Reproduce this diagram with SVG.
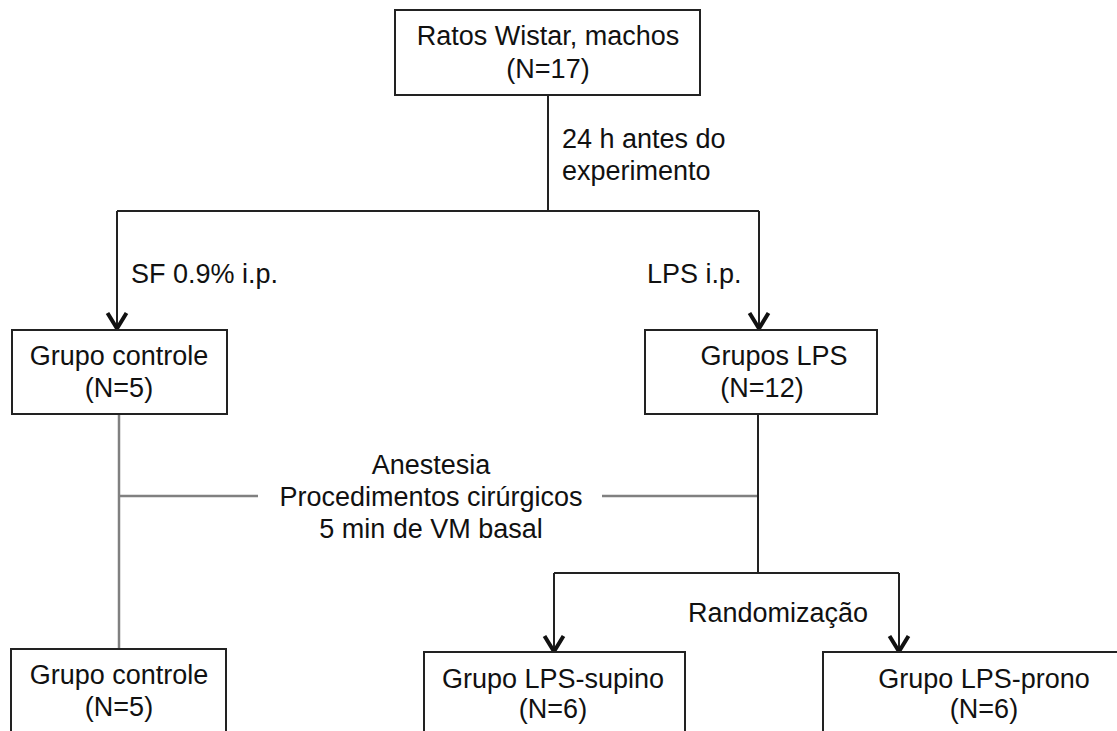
<svg xmlns="http://www.w3.org/2000/svg" width="1117" height="731" viewBox="0 0 1117 731">
<style>
text{font-family:"Liberation Sans",Arial,sans-serif;font-size:27px;fill:#111}
.c{text-anchor:middle}
.box{fill:#fff;stroke:#222;stroke-width:2}
.ln{fill:none;stroke:#222;stroke-width:2}
.gr{fill:none;stroke:#808080;stroke-width:2.5}
</style>
<defs>
<marker id="ah" markerWidth="22" markerHeight="24" refX="19" refY="12" orient="auto" markerUnits="userSpaceOnUse" viewBox="0 0 22 24">
<path d="M3,2.5 L18.5,12 L3,21.5" fill="none" stroke="#111" stroke-width="4"/>
</marker>
</defs>
<rect width="1117" height="731" fill="#fff"/>
<g id="connectors">
<path class="ln" d="M548,95 V211"/>
<path class="ln" d="M117,211 H759"/>
<path class="ln" d="M117,211 V329" marker-end="url(#ah)"/>
<path class="ln" d="M759,211 V329" marker-end="url(#ah)"/>
<path class="gr" d="M119,414 V649"/>
<path class="gr" d="M119,496 H258"/>
<path class="gr" d="M602,496 H758"/>
<path class="ln" d="M758,414 V573"/>
<path class="ln" d="M554,573 H899"/>
<path class="ln" d="M554,573 V652" marker-end="url(#ah)"/>
<path class="ln" d="M899,573 V652" marker-end="url(#ah)"/>
<text x="562" y="148">24 h antes do</text>
<text x="562" y="180">experimento</text>
<text x="131" y="283">SF 0.9% i.p.</text>
<text x="647" y="283">LPS i.p.</text>
<text class="c" x="431" y="474">Anestesia</text>
<text class="c" x="431" y="506">Procedimentos cirúrgicos</text>
<text class="c" x="431" y="538">5 min de VM basal</text>
<text class="c" x="778" y="622">Randomização</text>
</g>
<g id="n-ratos">
<rect class="box" x="395" y="10" width="305" height="85"/>
<text class="c" x="548" y="45">Ratos Wistar, machos</text>
<text class="c" x="548" y="78">(N=17)</text>
</g>
<g id="n-controle1">
<rect class="box" x="12" y="330" width="215" height="84"/>
<text class="c" x="119" y="365">Grupo controle</text>
<text class="c" x="119" y="397">(N=5)</text>
</g>
<g id="n-lps">
<rect class="box" x="645" y="330" width="232" height="84"/>
<text class="c" x="774" y="365">Grupos LPS</text>
<text class="c" x="762" y="397">(N=12)</text>
</g>
<g id="n-controle2">
<rect class="box" x="11" y="649" width="215" height="100"/>
<text class="c" x="119" y="684">Grupo controle</text>
<text class="c" x="119" y="716">(N=5)</text>
</g>
<g id="n-supino">
<rect class="box" x="424" y="652" width="261" height="100"/>
<text class="c" x="553" y="688">Grupo LPS-supino</text>
<text class="c" x="553" y="718">(N=6)</text>
</g>
<g id="n-prono">
<rect class="box" x="823" y="652" width="330" height="100"/>
<text class="c" x="984" y="688">Grupo LPS-prono</text>
<text class="c" x="984" y="718">(N=6)</text>
</g>
</svg>
